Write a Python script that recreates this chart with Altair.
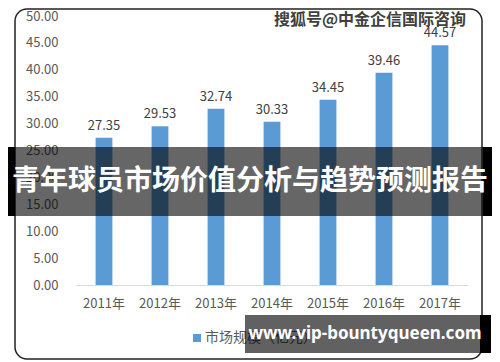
import altair as alt
import pandas as pd

FONT = "Noto Sans CJK SC"

years = ["2011年", "2012年", "2013年", "2014年", "2015年", "2016年", "2017年"]
values = [27.35, 29.53, 32.74, 30.33, 34.45, 39.46, 44.57]
series_name = ["市场规模（亿元）"]
y_ticks = [0, 5, 10, 15, 20, 25, 30, 35, 40, 45, 50]
banner_title = ["青年球员市场价值分析与趋势预测报告"]
watermark = ["搜狐号@中金企信国际咨询"]
site = ["www.vip-bountyqueen.com"]

BLUE = "#5b9bd5"
df = pd.DataFrame({"year": years, "value": values})
one = pd.DataFrame({"k": [0]})

x = alt.X(
    "year:N", sort=years,
    scale=alt.Scale(paddingInner=0.7, paddingOuter=0.35),
    axis=alt.Axis(title=None, labelAngle=0, ticks=False, domainColor="#d9d9d9",
                  domainWidth=1, labelColor="#595959", labelFontSize=13,
                  labelFont=FONT, labelPadding=12),
)
y = alt.Y(
    "value:Q", scale=alt.Scale(domain=[0, 50]),
    axis=alt.Axis(title=None, values=y_ticks, format=".2f", grid=False, domain=False,
                  ticks=False, labelPadding=18, labelColor="#595959",
                  labelFontSize=13, labelFont=FONT),
)

base = alt.Chart(df)

border = alt.Chart(one).mark_rect(
    fillOpacity=0, stroke="#222222", strokeWidth=1.5, cornerRadius=12
).encode(x=alt.value(-61), x2=alt.value(406), y=alt.value(-7), y2=alt.value(343))

bars = base.mark_bar(color=BLUE).encode(x=x, y=y)

labels = base.mark_text(
    baseline="bottom", dy=-5, fontSize=13, font=FONT, color="#404040"
).encode(x=x, y=y, text=alt.Text("value:Q", format=".2f"))

legend_sq = alt.Chart(pd.DataFrame({"s": series_name})).mark_square(
    size=64, color=BLUE, opacity=1
).encode(x=alt.value(121), y=alt.value(322))

legend_txt = alt.Chart(pd.DataFrame({"s": series_name})).mark_text(
    align="left", baseline="middle", fontSize=14, font=FONT, color="#595959"
).encode(x=alt.value(129), y=alt.value(322), text="s:N")

banner = alt.Chart(one).mark_rect(color="black", opacity=0.6).encode(
    x=alt.value(-61), x2=alt.value(407), y=alt.value(131), y2=alt.value(200))
banner_l = alt.Chart(one).mark_rect(color="black", opacity=1).encode(
    x=alt.value(-68), x2=alt.value(-61), y=alt.value(131), y2=alt.value(200))
banner_r = alt.Chart(one).mark_rect(color="black", opacity=1).encode(
    x=alt.value(407), x2=alt.value(416), y=alt.value(131), y2=alt.value(200))
banner_txt = alt.Chart(pd.DataFrame({"t": banner_title})).mark_text(
    align="center", baseline="middle", fontSize=28, fontWeight="bold",
    font=FONT, color="white"
).encode(x=alt.value(174), y=alt.value(166), text="t:N")

wm = alt.Chart(pd.DataFrame({"t": watermark})).mark_text(
    align="center", baseline="middle", fontSize=16, fontWeight="bold",
    font=FONT, color="#404040"
).encode(x=alt.value(294), y=alt.value(4), text="t:N")

url_box = alt.Chart(one).mark_rect(color="black", opacity=0.62).encode(
    x=alt.value(169), x2=alt.value(404), y=alt.value(299), y2=alt.value(337))
url_edge = alt.Chart(one).mark_rect(color="black", opacity=1).encode(
    x=alt.value(404), x2=alt.value(415), y=alt.value(299), y2=alt.value(337))
url_txt = alt.Chart(pd.DataFrame({"t": site})).mark_text(
    align="center", baseline="middle", fontSize=17, fontWeight="bold",
    font="Noto Sans", color="white"
).encode(x=alt.value(289), y=alt.value(318), text="t:N")

chart = alt.layer(
    border, bars, labels, legend_sq, legend_txt,
    banner, banner_l, banner_r, banner_txt, wm,
    url_box, url_edge, url_txt,
).properties(
    width=392, height=269,
    padding={"left": 68, "top": 8, "right": 24, "bottom": 77},
    autosize=alt.AutoSizeParams(type="none"),
    background="white",
).configure_view(stroke=None)

chart.save("out.html", embed_options={"renderer": "svg", "actions": False})
